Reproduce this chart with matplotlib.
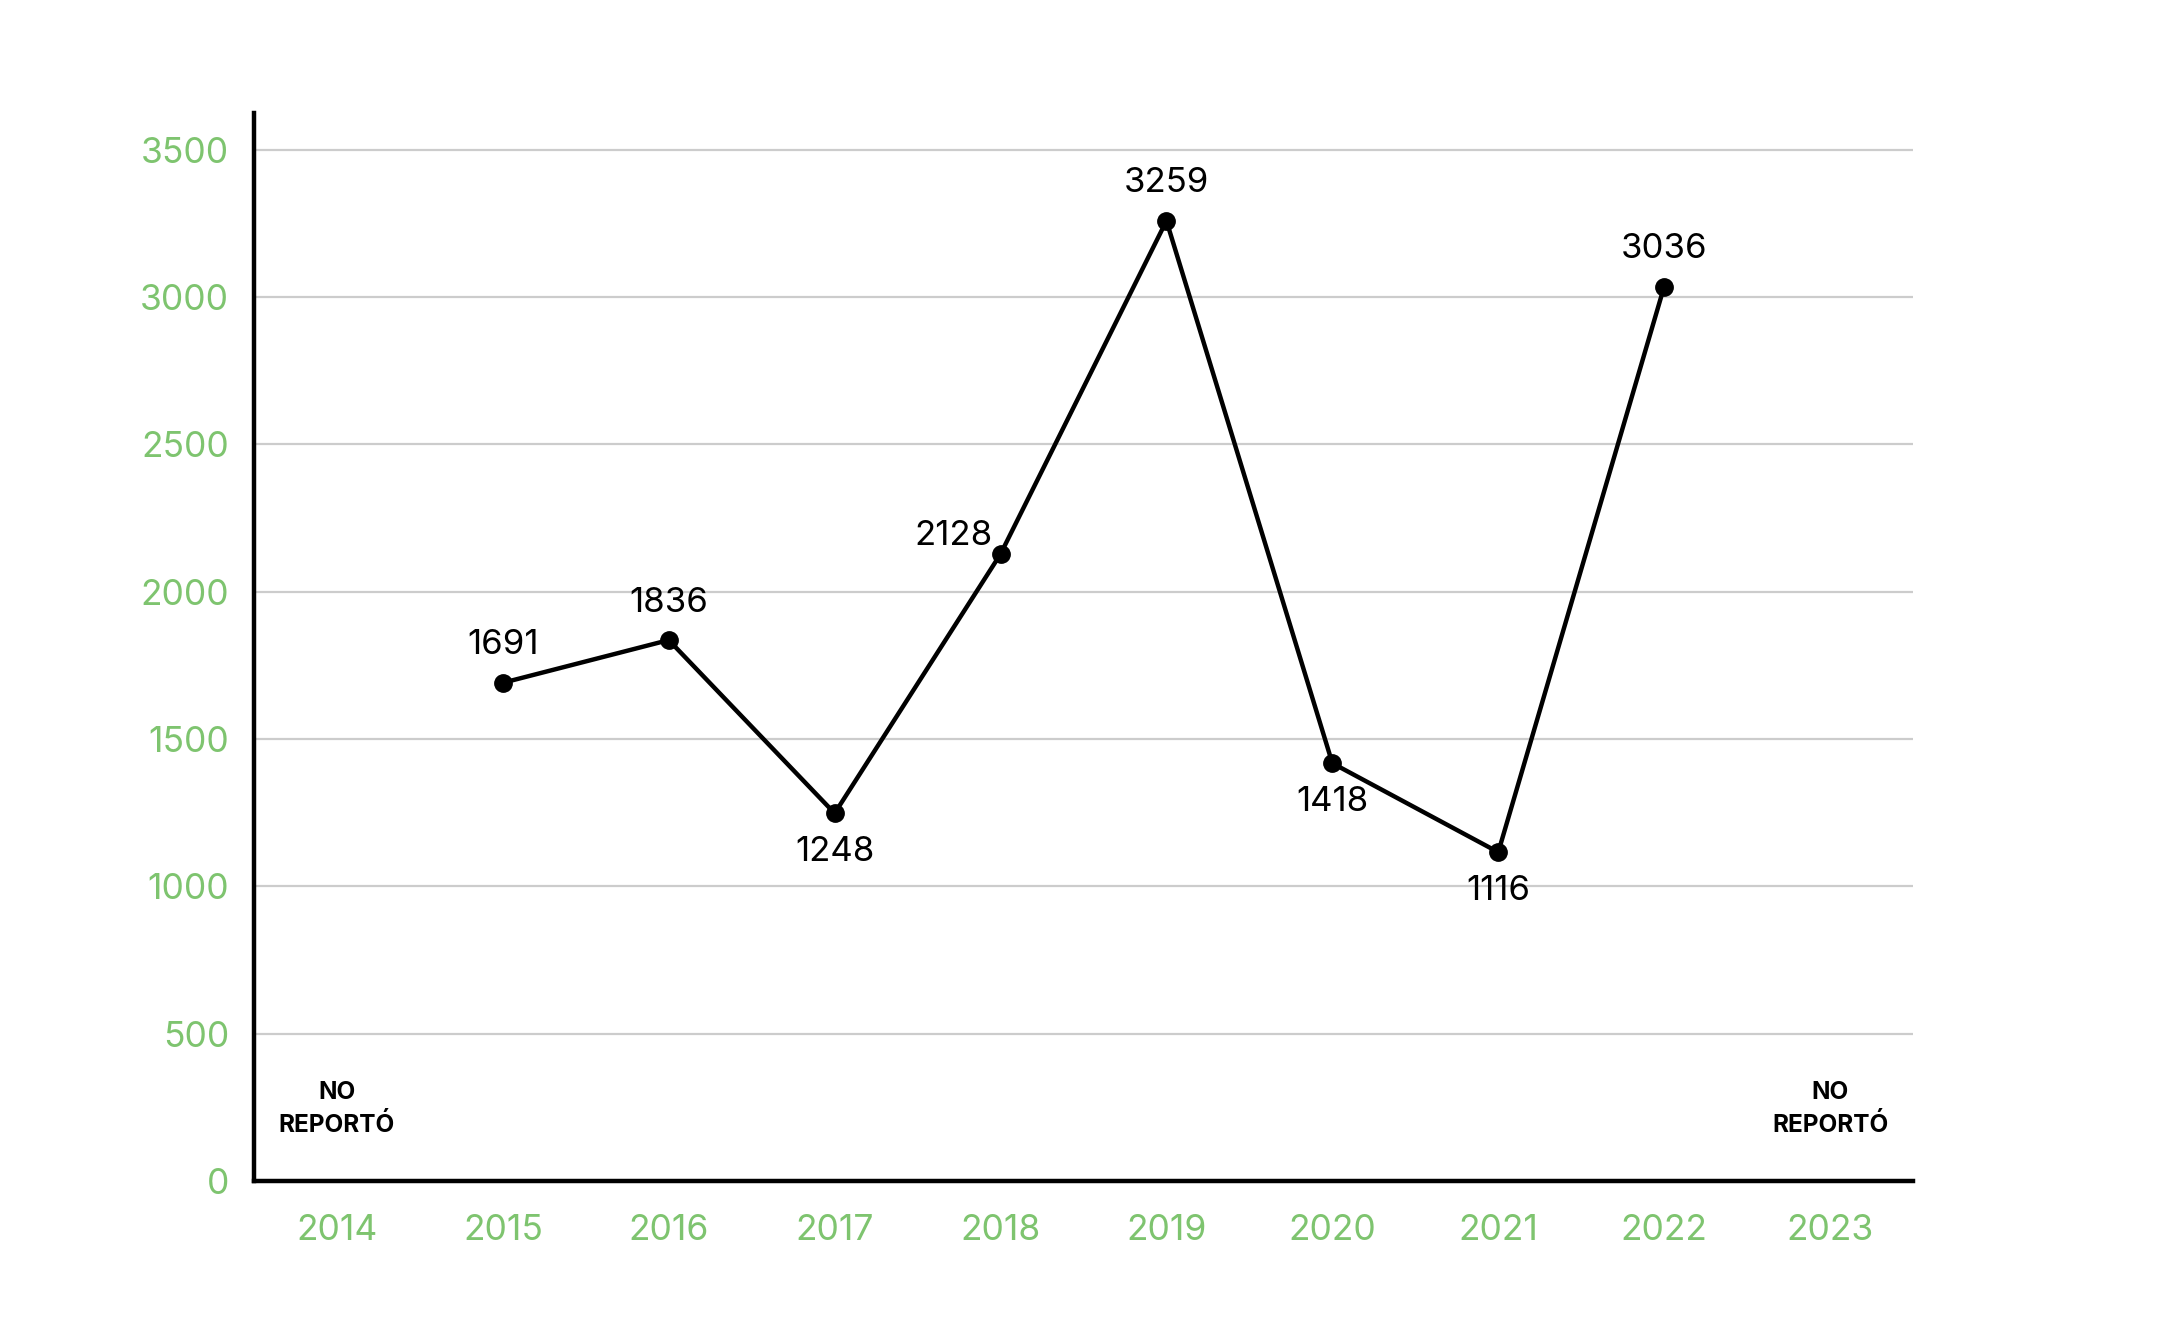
import matplotlib
matplotlib.use("Agg")
import matplotlib.pyplot as plt

years = ["2014", "2015", "2016", "2017", "2018", "2019", "2020", "2021", "2022", "2023"]
report_years = ["2015", "2016", "2017", "2018", "2019", "2020", "2021", "2022"]
values = [1691, 1836, 1248, 2128, 3259, 1418, 1116, 3036]
label_pos = ["above", "above", "below", "left", "above", "below", "below", "above"]
missing_years = ["2014", "2023"]
missing_text = "NO\nREPORTÓ"
yticks = [0, 500, 1000, 1500, 2000, 2500, 3000, 3500]

GREEN = "#7ec46f"
plt.rcParams['font.family'] = ['Inter', 'DejaVu Sans']

fig = plt.figure(figsize=(21.67, 13.34), dpi=100)
ax = fig.add_axes([0.1172, 0.1147, 0.7656, 0.8006])

xpos = [years.index(y) for y in report_years]
ax.plot(xpos, values, color="black", lw=3.2, marker="o", ms=12.5, zorder=3)

offsets = {"above": (0, 27, "center", "center"),
           "below": (0, -28, "center", "center"),
           "left": (-34, 13, "center", "center")}
for x, v, p in zip(xpos, values, label_pos):
    dx, dy, ha, va = offsets[p]
    ax.annotate(str(v), (x, v), xytext=(dx, dy), textcoords="offset points",
                ha=ha, va=va, fontsize=25, color="black", zorder=4)

for y in missing_years:
    ax.text(years.index(y), 245, missing_text, ha="center", va="center",
            fontsize=17.5, fontweight="bold", color="black", linespacing=1.5)

ax.set_xlim(-0.5, len(years) - 0.5)
ax.set_ylim(0, 3625)
ax.set_xticks(range(len(years)))
ax.set_xticklabels(years)
ax.set_yticks(yticks)
ax.set_yticklabels([str(t) for t in yticks])
ax.tick_params(axis="both", length=0, labelsize=25.5, labelcolor=GREEN)
ax.tick_params(axis="y", pad=18)
ax.tick_params(axis="x", pad=24)

ax.grid(axis="y", color="#cccccc", lw=1.6, zorder=0)
ax.set_axisbelow(True)
for s in ["top", "right"]:
    ax.spines[s].set_visible(False)
for s in ["left", "bottom"]:
    ax.spines[s].set_linewidth(3.2)
    ax.spines[s].set_color("black")

fig.savefig("out.png", dpi=100, facecolor="white")
